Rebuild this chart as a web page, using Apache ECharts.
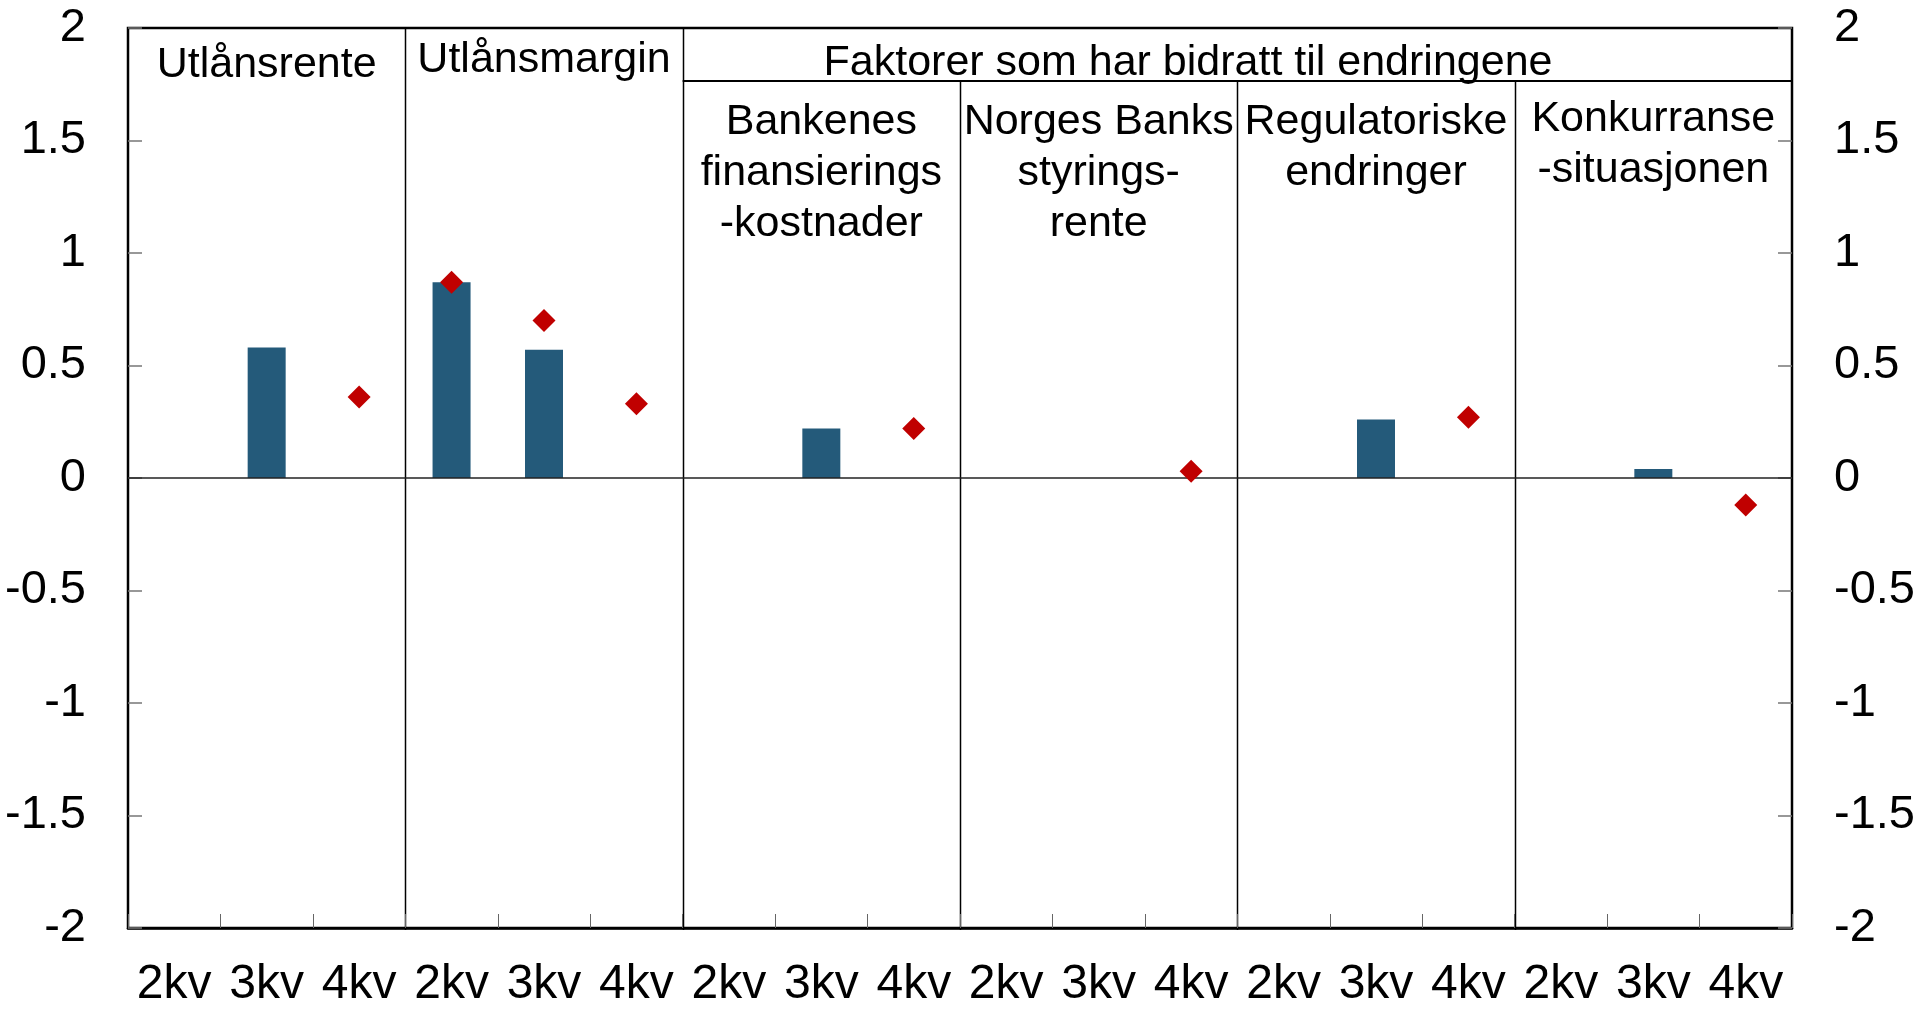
<!DOCTYPE html>
<html>
<head>
<meta charset="utf-8">
<title>Utlånsrente og utlånsmargin</title>
<script src="https://cdn.jsdelivr.net/npm/echarts/dist/echarts.min.js"></script>
<style>
  html, body { margin: 0; padding: 0; background: #fff; }
  #container { width: 1920px; height: 1009px; }
</style>
</head>
<body>
<div id="container"></div>
<script>
// panel headers, quarters per panel, and values (percentage points)
var panels = ["Utlånsrente", "Utlånsmargin", "Bankenes\nfinansierings\n-kostnader",
  "Norges Banks\nstyrings-\nrente", "Regulatoriske\nendringer", "Konkurranse\n-situasjonen"];
var groupTitle = "Faktorer som har bidratt til endringene";
var quarters = ["2kv", "3kv", "4kv"];
var barValues = [null, 0.58, null, 0.87, 0.57, null, null, 0.22, null,
  null, null, null, null, 0.26, null, null, 0.04, null];
var diamondValues = [null, null, 0.36, 0.87, 0.70, 0.33, null, null, 0.22,
  null, null, 0.03, null, null, 0.27, null, null, -0.12];
var yTicks = [-2, -1.5, -1, -0.5, 0, 0.5, 1, 1.5, 2];

var dom = document.getElementById("container");
var myChart = echarts.init(dom);

var FONT = "Liberation Sans, Arial, sans-serif";
var LEFT = 128, RIGHT = 1792, TOP = 28, BOTTOM = 930;
var panelW = (RIGHT - LEFT) / panels.length;

// unique category keys, label shows only the quarter
var categories = [];
panels.forEach(function(p, i) {
  quarters.forEach(function(q) { categories.push(i + "|" + q); });
});

var graphics = [];
// header texts
var headerY = [65, 60];
panels.forEach(function(p, i) {
  var cx = LEFT + panelW * (i + 0.5);
  if (i < 2) {
    graphics.push({ type: "text", x: cx, y: headerY[i], silent: true,
      style: { text: p, font: "43px " + FONT, fill: "#000", align: "center", verticalAlign: "middle" } });
  } else {
    graphics.push({ type: "text", x: cx, y: i === 5 ? 94 : 97, silent: true,
      style: { text: p, font: "43px " + FONT, fill: "#000", align: "center", verticalAlign: "top", lineHeight: 51 } });
  }
});
graphics.push({ type: "text", x: 1188, y: 63, silent: true,
  style: { text: groupTitle, font: "43px " + FONT, fill: "#000", align: "center", verticalAlign: "middle" } });
// header box line under group title
graphics.push({ type: "line", silent: true, shape: { x1: LEFT + panelW * 2, y1: 81, x2: RIGHT, y2: 81 },
  style: { stroke: "#000", lineWidth: 2 } });
// panel dividers
for (var i = 1; i < panels.length; i++) {
  var x = Math.round(LEFT + panelW * i) + 0.5;
  graphics.push({ type: "line", silent: true, shape: { x1: x, y1: i <= 2 ? TOP : 81, x2: x, y2: BOTTOM },
    style: { stroke: "#000", lineWidth: 1.5 } });
}

var yAxisCommon = {
  type: "value",
  min: yTicks[0],
  max: yTicks[yTicks.length - 1],
  interval: 0.5,
  axisLine: { show: false },
  axisTick: { show: true, inside: true, length: 14, lineStyle: { color: "#777", width: 1.5 } },
  splitLine: { show: false },
  axisLabel: { fontSize: 47, fontFamily: FONT, color: "#000", margin: 42 }
};

var option = {
  animation: false,
  backgroundColor: "#fff",
  grid: {
    left: LEFT, right: 1920 - RIGHT, top: TOP, bottom: 1009 - BOTTOM,
    show: true, borderColor: "#000", borderWidth: 2.5, backgroundColor: "transparent"
  },
  xAxis: {
    type: "category",
    data: categories,
    boundaryGap: true,
    axisLine: { show: true, onZero: false, lineStyle: { color: "#000", width: 2.5 } },
    axisTick: { show: true, inside: true, length: 14, interval: 0, lineStyle: { color: "#666", width: 1 } },
    axisLabel: {
      interval: 0, fontSize: 48, fontFamily: FONT, color: "#000", margin: 33,
      formatter: function(v) { return v.split("|")[1]; }
    },
    splitLine: { show: false }
  },
  yAxis: [
    Object.assign({ position: "left" }, yAxisCommon),
    Object.assign({ position: "right" }, yAxisCommon)
  ],
  graphic: graphics,
  series: [
    {
      name: "Bidrag",
      type: "bar",
      data: barValues,
      barWidth: 38,
      itemStyle: { color: "#245a7a" },
      markLine: {
        silent: true,
        symbol: "none",
        label: { show: false },
        lineStyle: { color: "#222", width: 1.5, type: "solid" },
        data: [{ yAxis: 0 }]
      }
    },
    {
      name: "Endring",
      type: "scatter",
      data: diamondValues,
      symbol: "diamond",
      symbolSize: [23, 23],
      itemStyle: { color: "#c00000", opacity: 1 },
      z: 5
    }
  ]
};

if (option && typeof option === "object") {
  myChart.setOption(option, true);
}
</script>
</body>
</html>
